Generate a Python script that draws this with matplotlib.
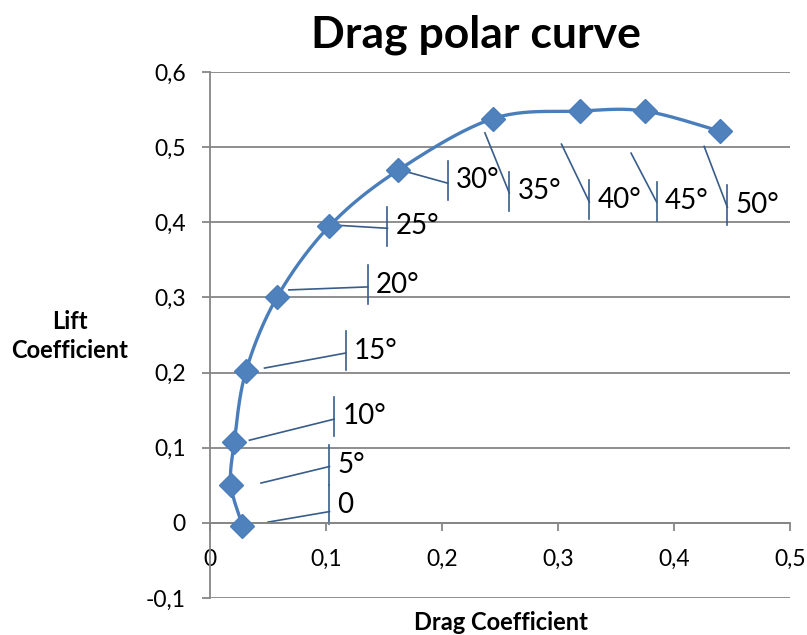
import matplotlib.pyplot as plt
import numpy as np

# Angle of attack labels and the measured coefficients
angles = ["0", "5°", "10°", "15°", "20°", "25°", "30°", "35°", "40°", "45°", "50°"]
drag_coeff = [0.028, 0.018, 0.021, 0.031, 0.058, 0.103, 0.162, 0.244, 0.319, 0.375, 0.440]
lift_coeff = [-0.004, 0.051, 0.108, 0.202, 0.301, 0.395, 0.469, 0.538, 0.548, 0.548, 0.521]

# Label layout: leader line start, leader end at the label bar, bar/text centre
leader_x0 = [0.050, 0.044, 0.034, 0.047, 0.068, 0.110, 0.170, 0.237, 0.303, 0.363, 0.426]
leader_y0 = [0.001, 0.053, 0.110, 0.206, 0.310, 0.396, 0.467, 0.519, 0.504, 0.492, 0.501]
label_x = [0.103, 0.103, 0.107, 0.117, 0.136, 0.153, 0.205, 0.258, 0.327, 0.385, 0.446]
leader_y1 = [0.015, 0.075, 0.138, 0.226, 0.314, 0.392, 0.452, 0.439, 0.427, 0.427, 0.420]
label_y = [0.024, 0.077, 0.142, 0.229, 0.317, 0.395, 0.456, 0.441, 0.430, 0.428, 0.423]

LINE_BLUE = "#4A7EBB"
MARK_BLUE = "#4F81BD"
LEADER_BLUE = "#385D8A"
GRID_GREY = "#868686"
FONT = "Lato"

plt.rcParams["font.family"] = FONT


def smooth_curve(xs, ys, steps=40):
    # Catmull-Rom style bezier smoothing, like a spreadsheet "smoothed line"
    pts = np.column_stack([xs, ys])
    n = len(pts)
    out = []
    for i in range(n - 1):
        p0 = pts[max(i - 1, 0)]
        p1 = pts[i]
        p2 = pts[i + 1]
        p3 = pts[min(i + 2, n - 1)]
        c1 = p1 + (p2 - p0) / 6.0
        c2 = p2 - (p3 - p1) / 6.0
        t = np.linspace(0, 1, steps)[:, None]
        seg = ((1 - t) ** 3) * p1 + 3 * ((1 - t) ** 2) * t * c1 + 3 * (1 - t) * t ** 2 * c2 + t ** 3 * p2
        out.append(seg if i == 0 else seg[1:])
    seg = np.vstack(out)
    return seg[:, 0], seg[:, 1]


fig = plt.figure(figsize=(8.07, 6.35), dpi=100)
ax = fig.add_axes([210 / 807, 1 - 598 / 635, (790 - 210) / 807, (598 - 72) / 635])

# spine position first: moving it rebuilds the ticks
for side in ["top", "right"]:
    ax.spines[side].set_visible(False)
ax.spines["bottom"].set_position(("data", 0))
for side in ["left", "bottom"]:
    ax.spines[side].set_color(GRID_GREY)
    ax.spines[side].set_linewidth(1.3)

ax.set_xlim(0, 0.5)
ax.set_ylim(-0.1, 0.6)
ax.set_xticks(np.arange(0, 0.51, 0.1))
ax.set_yticks(np.arange(-0.1, 0.61, 0.1))
fmt = lambda v: "0" if abs(v) < 1e-9 else f"{v:.1f}".replace(".", ",")
ax.set_xticklabels([fmt(v) for v in ax.get_xticks()])
ax.set_yticklabels([fmt(v) for v in ax.get_yticks()])
ax.tick_params(axis="both", direction="out", length=5.5, width=1.3, color=GRID_GREY, labelsize=16.5)
ax.tick_params(axis="x", pad=13)
ax.tick_params(axis="y", pad=12)

ax.grid(axis="y", color=GRID_GREY, linewidth=1.3, zorder=0)
ax.set_axisbelow(True)

# Smoothed polar curve with diamond markers
sx, sy = smooth_curve(drag_coeff, lift_coeff)
ax.plot(sx, sy, color=LINE_BLUE, linewidth=2.4, zorder=3, clip_on=False)
ax.plot(drag_coeff, lift_coeff, linestyle="none", marker="D", markersize=12,
        color=MARK_BLUE, markeredgecolor=LINE_BLUE, zorder=4, clip_on=False)

# Data labels with leader lines and the small bar in front of each label
bar_half = 0.026
for name, x0, y0, lx, y1, ly in zip(angles, leader_x0, leader_y0, label_x, leader_y1, label_y):
    ax.plot([x0, lx], [y0, y1], color=LEADER_BLUE, linewidth=1.2, zorder=2)
    ax.plot([lx, lx], [ly - bar_half, ly + bar_half], color=LEADER_BLUE, linewidth=1.2, zorder=2)
    ax.text(lx + 0.007, ly, name, fontsize=20, ha="left", va="center")

fig.text(476 / 807, 1 - 35 / 635, "Drag polar curve", fontweight="bold",
         fontsize=32, ha="center", va="center")
fig.text(501 / 807, 1 - 622 / 635, "Drag Coefficient", fontweight="bold",
         fontsize=17, ha="center", va="center")
fig.text(70 / 807, 1 - 336 / 635, "Lift\nCoefficient", fontweight="bold",
         fontsize=17, ha="center", va="center", linespacing=1.3)

plt.savefig("out.png", dpi=100)
